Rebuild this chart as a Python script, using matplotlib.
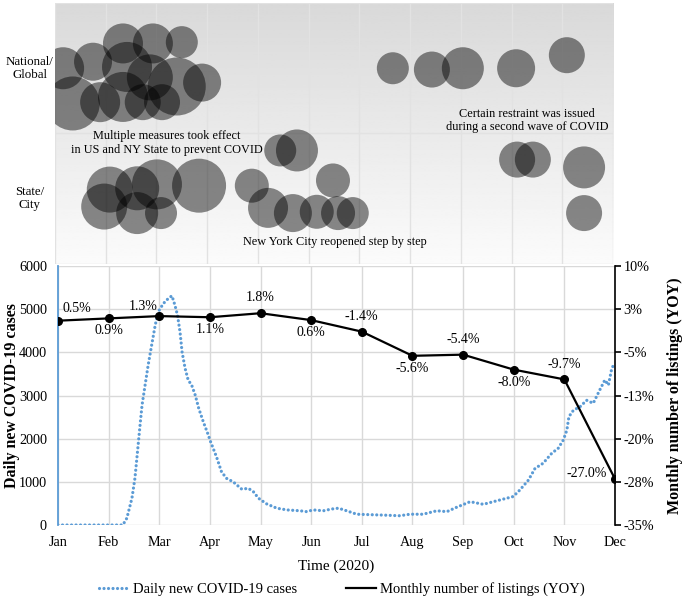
import numpy as np
import matplotlib.pyplot as plt
from matplotlib.lines import Line2D

plt.rcParams['font.family'] = ['Liberation Serif', 'DejaVu Serif']

# ---- data ----
months = ['Jan', 'Feb', 'Mar', 'Apr', 'May', 'Jun', 'Jul', 'Aug', 'Sep', 'Oct', 'Nov', 'Dec']
listing_yoy = [0.5, 0.9, 1.3, 1.1, 1.8, 0.6, -1.4, -5.6, -5.4, -8.0, -9.7, -27.0]
label_side = ['right', 'below', 'left', 'below', 'above', 'below',
              'above', 'below', 'above', 'below', 'above', 'side']

# daily new cases, x in months since Jan 1
case_month = [0.0, 1.28, 1.36, 1.46, 1.52, 1.57, 1.62, 1.66, 1.72, 1.78, 1.85, 1.92,
              1.98, 2.08, 2.18, 2.25, 2.31, 2.36, 2.41, 2.45, 2.51, 2.57, 2.64, 2.71,
              2.78, 2.87, 2.97, 3.00, 3.13, 3.23, 3.33, 3.46, 3.63, 3.76, 3.86, 3.96,
              4.12, 4.32, 4.52, 4.78, 4.91, 5.04, 5.24, 5.40, 5.54, 5.70, 5.90, 6.16,
              6.42, 6.75, 6.95, 7.21, 7.48, 7.68, 7.87, 8.14, 8.40, 8.66, 8.86, 8.99,
              9.12, 9.29, 9.42, 9.58, 9.75, 9.88, 9.98, 10.05, 10.09, 10.18, 10.31,
              10.44, 10.57, 10.70, 10.80, 10.87, 10.93, 10.98]
case_count = [0, 0, 160, 620, 1090, 1700, 2310, 2780, 3240, 3700, 4170, 4630,
              4940, 5130, 5250, 5310, 5090, 4860, 4470, 4010, 3630, 3360, 3240, 3010,
              2700, 2390, 2080, 1970, 1580, 1230, 1080, 1000, 830, 850, 770, 620,
              490, 390, 350, 330, 310, 350, 330, 370, 390, 330, 250, 240,
              230, 215, 250, 250, 330, 310, 410, 540, 480, 560, 620, 660,
              810, 1040, 1310, 1430, 1660, 1780, 1970, 2200, 2510, 2660, 2740,
              2890, 2820, 3130, 3360, 3240, 3590, 3740]

# policy events: month position, level (1-2 national/global, 0-1 state/city), size
bubble_x = [0.16, 0.35, 0.75, 0.89, 1.34, 1.42, 1.34, 1.73, 1.93, 1.87, 2.11, 2.40, 2.50, 2.90,
            1.08, 0.97, 1.62, 2.01, 1.62, 2.09, 2.84,
            4.44, 4.77, 3.88, 5.48, 4.20, 4.69, 5.16, 5.58, 5.87,
            6.66, 7.43, 8.04, 9.09, 10.09,
            9.11, 9.42, 10.43, 10.43]
bubble_y = [1.50, 1.23, 1.55, 1.24, 1.69, 1.51, 1.28, 1.24, 1.69, 1.43, 1.24, 1.36, 1.70, 1.39,
            0.57, 0.44, 0.58, 0.61, 0.39, 0.39, 0.60,
            0.87, 0.87, 0.60, 0.64, 0.43, 0.39, 0.40, 0.39, 0.39,
            1.50, 1.49, 1.50, 1.50, 1.60,
            0.80, 0.80, 0.74, 0.39]
bubble_size = [42, 54, 38, 40, 40, 50, 50, 36, 40, 46, 36, 58, 32, 38,
               46, 46, 44, 50, 42, 32, 54,
               32, 42, 34, 34, 40, 38, 34, 34, 32,
               32, 36, 42, 38, 36,
               36, 36, 42, 36]
level_names = ['State/\nCity', 'National/\nGlobal']

fig = plt.figure(figsize=(6.84, 5.99), dpi=100)

# ---- top: policy bubbles ----
ax0 = fig.add_axes([0.0804, 0.5593, 0.8158, 0.4357])
grad = np.linspace(0.985, 0.85, 200).reshape(-1, 1)
ax0.imshow(grad, extent=[0, 11, 0, 2], aspect='auto', cmap='gray', vmin=0, vmax=1,
           origin='lower', zorder=0)
ax0.scatter(bubble_x, bubble_y, s=(0.72 * np.array(bubble_size)) ** 2, color='black',
            alpha=0.46, linewidths=0, zorder=3)
ax0.set_xlim(0, 11)
ax0.set_ylim(0, 2)
ax0.set_xticks(range(12))
ax0.set_yticks([0, 1, 2])
ax0.grid(color='#e2e2e2', lw=1)
ax0.set_axisbelow(True)
ax0.tick_params(length=0, labelbottom=False, labelleft=False)
for s in ax0.spines.values():
    s.set_visible(False)
for lvl, name in enumerate(level_names):
    ax0.text(-0.045, lvl + 0.5, name, transform=ax0.get_yaxis_transform(),
             ha='center', va='center', fontsize=9.3, linespacing=1.1)
ax0.text(2.21, 0.93, 'Multiple measures took effect\nin US and NY State to prevent COVID',
         ha='center', va='center', fontsize=8.8, zorder=4)
ax0.text(5.52, 0.17, 'New York City reopened step by step', ha='center', va='center',
         fontsize=8.8, zorder=4)
ax0.text(9.30, 1.10, 'Certain restraint was issued\nduring a second wave of COVID',
         ha='center', va='center', fontsize=8.8, zorder=4)

# ---- bottom: cases and listings ----
ax = fig.add_axes([0.0848, 0.1235, 0.8143, 0.4324])
blue = '#5B9BD5'
ax.plot(case_month, case_count, color=blue, lw=2.3, ls=(0, (0.01, 1.4)),
        dash_capstyle='round', solid_capstyle='round')
ax.set_xlim(0, 11)
ax.set_ylim(0, 6000)
ax.set_yticks(range(0, 6001, 1000))
ax.set_xticks(range(12))
ax.set_xticklabels(months)
ax.grid(color='#d9d9d9', lw=1)
ax.tick_params(length=0, labelsize=10.2, pad=8)
for s in ['top', 'right', 'bottom']:
    ax.spines[s].set_visible(False)
ax.spines['left'].set_color(blue)
ax.spines['left'].set_linewidth(1.3)
ax.set_ylabel('Daily new COVID-19 cases', fontsize=11.5, fontweight='bold')
ax.yaxis.set_label_coords(-0.069, 0.5)
ax.set_xlabel('Time (2020)', fontsize=11)
ax.xaxis.set_label_coords(0.5, -0.135)

ax2 = ax.twinx()
ax2.plot(range(12), listing_yoy, color='black', lw=1.6, marker='o', ms=5.5)
ax2.set_ylim(-35, 10)
ax2.set_yticks([10, 2.5, -5, -12.5, -20, -27.5, -35])
ax2.set_yticklabels(['10%', '3%', '-5%', '-13%', '-20%', '-28%', '-35%'])
for s in ['top', 'left', 'bottom']:
    ax2.spines[s].set_visible(False)
ax2.spines['right'].set_linewidth(1.2)
ax2.tick_params(direction='out', length=4, width=1.2, labelsize=10.2, pad=2)
ax2.set_ylabel('Monthly number of listings (YOY)', fontsize=11.5, fontweight='bold')
ax2.yaxis.set_label_coords(1.093, 0.5)

offsets = {'above': ((0, 11), 'center'), 'below': ((0, -9), 'center'),
           'right': ((3, 9), 'left'), 'left': ((-1, 7), 'right'),
           'side': ((-6, 4), 'right')}
for i, (v, side) in enumerate(zip(listing_yoy, label_side)):
    off, ha = offsets[side]
    ax2.annotate(f'{v:.1f}%', (i, v), xytext=off, textcoords='offset points',
                 ha=ha, va='center', fontsize=10)

handles = [Line2D([], [], color=blue, lw=2.3, ls=(0, (0.01, 1.4)), dash_capstyle='round'),
           Line2D([], [], color='black', lw=1.6)]
fig.legend(handles, ['Daily new COVID-19 cases', 'Monthly number of listings (YOY)'],
           loc='lower center', bbox_to_anchor=(0.5, -0.017), ncol=2, frameon=False,
           fontsize=10.5, handlelength=2, handletextpad=0.3, columnspacing=3.4)

fig.savefig('out.png', dpi=100)
